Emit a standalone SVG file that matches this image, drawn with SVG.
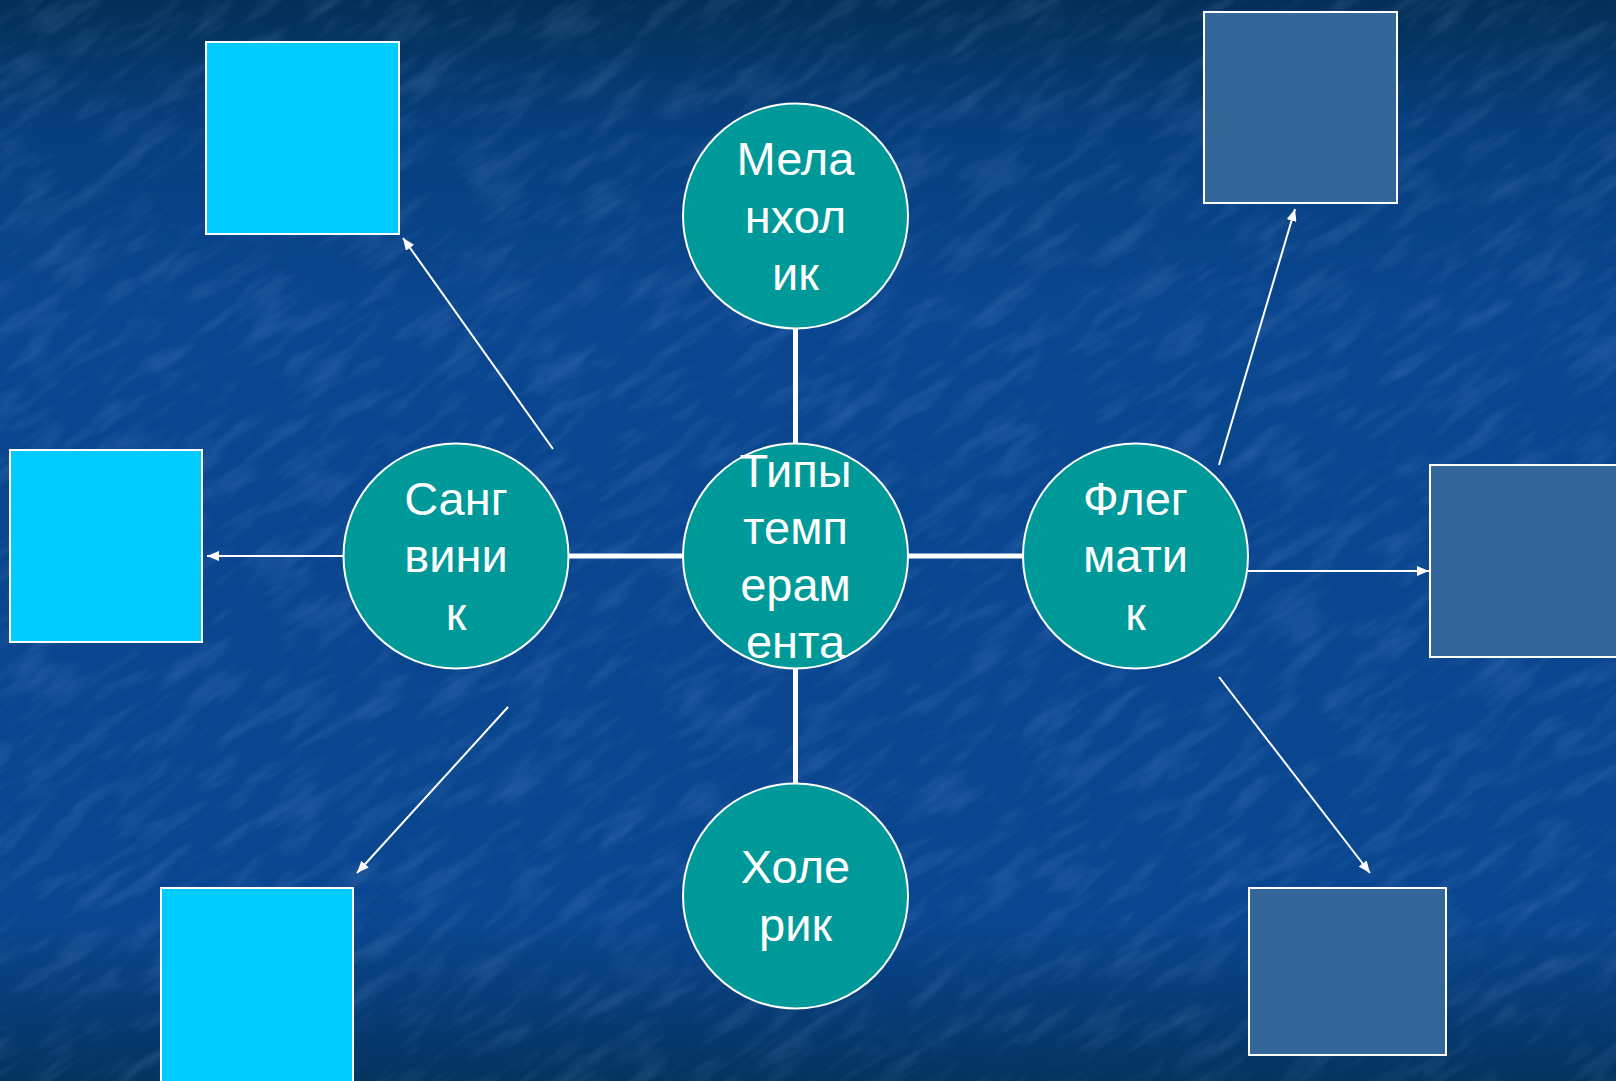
<svg xmlns="http://www.w3.org/2000/svg" width="1616" height="1081" viewBox="0 0 1616 1081">
<defs>
<linearGradient id="bg" x1="0" y1="0" x2="0" y2="1">
<stop offset="0" stop-color="#032f56"/>
<stop offset="0.12" stop-color="#073f7e"/>
<stop offset="0.3" stop-color="#0a4690"/>
<stop offset="0.85" stop-color="#0a4690"/>
<stop offset="1" stop-color="#04335f"/>
</linearGradient>
<filter id="tex" x="0" y="0" width="1" height="1">
<feTurbulence type="fractalNoise" baseFrequency="0.015 0.06" numOctaves="3" seed="4" result="n"/>
<feColorMatrix in="n" type="matrix" values="0 0 0 0 0.3  0 0 0 0 0.5  0 0 0 0 0.85  0 0 0 1.2 -0.55"/>
</filter>
<marker id="ah" viewBox="0 0 12 10" refX="12" refY="5" markerWidth="12" markerHeight="10" markerUnits="userSpaceOnUse" orient="auto">
<path d="M0,0 L12,5 L0,10 Z" fill="#ffffff"/>
</marker>
<style>
.node circle{fill:#009999;stroke:#ffffff;stroke-width:2}
.node text{font-family:"Liberation Sans",Arial,sans-serif;font-size:47px;fill:#ffffff;text-anchor:middle}
.light{fill:#00ccff;stroke:#ffffff;stroke-width:2}
.dark{fill:#336699;stroke:#ffffff;stroke-width:2}
.thick{stroke:#ffffff;stroke-width:5;fill:none}
.arrow{stroke:#ffffff;stroke-width:2;fill:none;marker-end:url(#ah)}
</style>
</defs>
<rect width="1616" height="1081" fill="url(#bg)"/>
<g transform="rotate(-35 808 540)" opacity="0.3"><rect x="-400" y="-400" width="2400" height="1900" filter="url(#tex)"/></g>

<g id="connectors">
<line class="thick" x1="795.5" y1="329" x2="795.5" y2="443"/>
<line class="thick" x1="795.5" y1="669" x2="795.5" y2="783"/>
<line class="thick" x1="569" y1="556" x2="683" y2="556"/>
<line class="thick" x1="908" y1="556" x2="1023" y2="556"/>
<line class="arrow" x1="553" y1="449" x2="403" y2="238"/>
<line class="arrow" x1="343" y1="556" x2="207" y2="556"/>
<line class="arrow" x1="508" y1="707" x2="357" y2="873"/>
<line class="arrow" x1="1219" y1="465" x2="1295" y2="209"/>
<line class="arrow" x1="1248" y1="571" x2="1429" y2="571"/>
<line class="arrow" x1="1219" y1="677" x2="1370" y2="873"/>
</g>

<g id="box-tl"><rect class="light" x="206" y="42" width="193" height="192"/></g>
<g id="box-ml"><rect class="light" x="10" y="450" width="192" height="192"/></g>
<g id="box-bl"><rect class="light" x="161" y="888" width="192" height="200"/></g>
<g id="box-tr"><rect class="dark" x="1204" y="12" width="193" height="191"/></g>
<g id="box-mr"><rect class="dark" x="1430" y="465" width="200" height="192"/></g>
<g id="box-br"><rect class="dark" x="1249" y="888" width="197" height="167"/></g>

<g id="node-melancholic" class="node">
<circle cx="795.5" cy="216" r="112.5"/>
<text x="795.5" y="175">Мела</text>
<text x="795.5" y="233">нхол</text>
<text x="795.5" y="290">ик</text>
</g>
<g id="node-sanguinic" class="node">
<circle cx="456" cy="556" r="112.5"/>
<text x="456" y="515">Санг</text>
<text x="456" y="572">вини</text>
<text x="456" y="630">к</text>
</g>
<g id="node-center" class="node">
<circle cx="795.5" cy="556" r="112.5"/>
<text x="795.5" y="487">Типы</text>
<text x="795.5" y="544">темп</text>
<text x="795.5" y="601">ерам</text>
<text x="795.5" y="658">ента</text>
</g>
<g id="node-phlegmatic" class="node">
<circle cx="1135.5" cy="556" r="112.5"/>
<text x="1135.5" y="515">Флег</text>
<text x="1135.5" y="572">мати</text>
<text x="1135.5" y="630">к</text>
</g>
<g id="node-choleric" class="node">
<circle cx="795.5" cy="896" r="112.5"/>
<text x="795.5" y="883">Холе</text>
<text x="795.5" y="941">рик</text>
</g>
</svg>
